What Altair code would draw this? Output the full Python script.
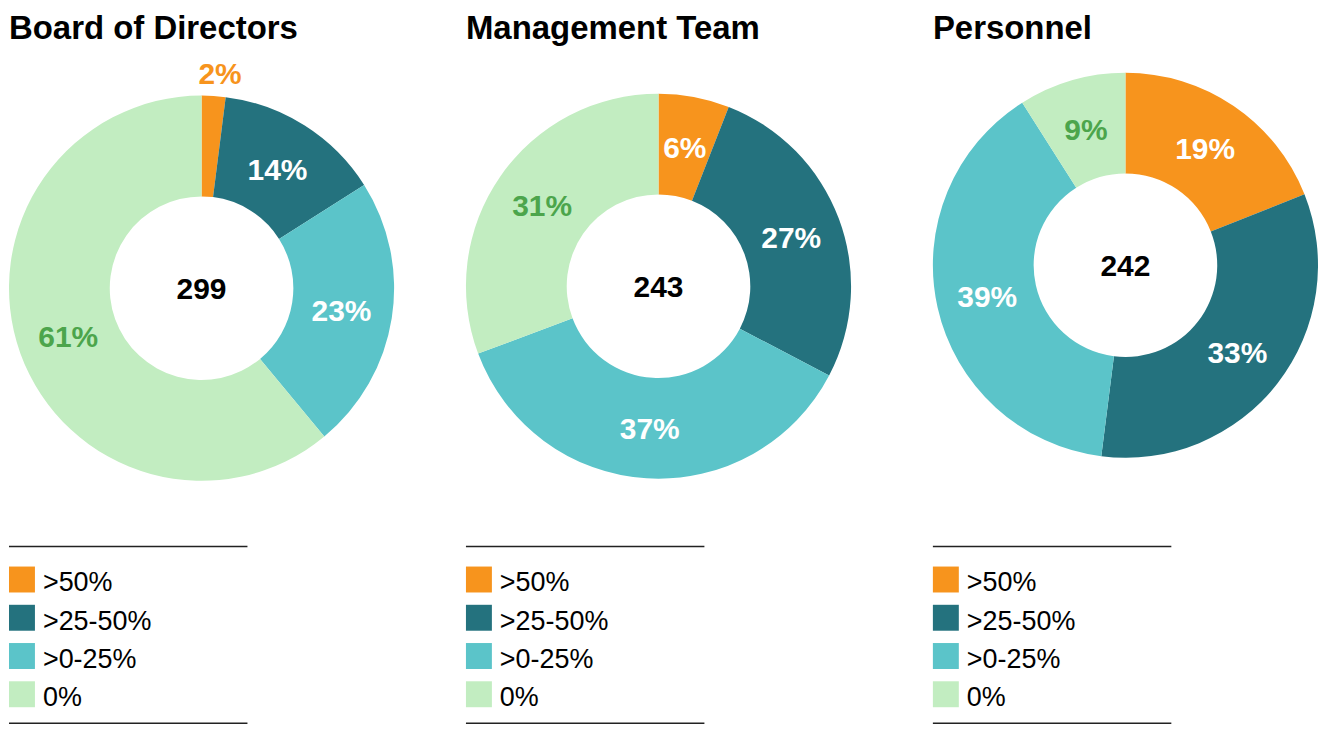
import altair as alt
import pandas as pd

# ---- data ----
categories = [">50%", ">25-50%", ">0-25%", "0%"]
colors = ["#F7941D", "#24727E", "#5BC4C9", "#C2EDC1"]
titles = ["Board of Directors", "Management Team", "Personnel"]
totals = [299, 243, 242]
board = [2, 14, 23, 61]
management = [6, 27, 37, 31]
personnel = [19, 33, 39, 9]

# ---- styling / layout ----
FONT = "Liberation Sans"
LABEL_GREEN = "#4CA54C"
R_OUT, R_IN, R_LAB, R_OUTSIDE = 193, 92, 142, 216
CX = 193
H = 718
panel_widths = [457, 467, 386]
centers_y = [280, 278, 257]
LEG_ROWS = [572, 687]
RULE_TOP, RULE_BOT, RULE_LEN = 539, 716, 239
SMALL = 5  # slices below this share get their label outside the ring

color_scale = alt.Scale(domain=categories, range=colors)


def panel(title, total, values, width, cy):
    df = pd.DataFrame({"category": categories, "value": values,
                       "rank": list(range(len(categories)))})
    src = alt.Chart(df)
    arcs = src.mark_arc(outerRadius=R_OUT, innerRadius=R_IN).encode(
        theta=alt.Theta("value:Q", stack=True),
        order=alt.Order("rank:Q", sort="ascending"),
        color=alt.Color("category:N", scale=color_scale, legend=None),
        x=alt.value(CX), y=alt.value(cy),
    )
    # mid-angle of each slice, computed from the cumulative sum
    lab_base = src.transform_window(
        cum="sum(value)", sort=[alt.SortField("rank", order="ascending")]
    ).transform_calculate(
        mid="datum.cum - datum.value / 2", lbl="datum.value + '%'"
    )
    inside = lab_base.transform_filter(f"datum.value >= {SMALL}").mark_text(
        radius=R_LAB, font=FONT, fontSize=30, fontWeight="bold",
        baseline="middle", dy=2
    ).encode(
        theta=alt.Theta("mid:Q", stack=False),
        text="lbl:N",
        color=alt.condition("datum.category == '0%'", alt.value(LABEL_GREEN),
                            alt.value("white")),
        x=alt.value(CX), y=alt.value(cy),
    )
    outside = lab_base.transform_filter(f"datum.value < {SMALL}").mark_text(
        radius=R_OUTSIDE, font=FONT, fontSize=30, fontWeight="bold",
        baseline="middle", dy=2, dx=5
    ).encode(
        theta=alt.Theta("mid:Q", stack=False),
        text="lbl:N",
        color=alt.Color("category:N", scale=color_scale, legend=None),
        x=alt.value(CX), y=alt.value(cy),
    )
    center = alt.Chart(pd.DataFrame({"total": [total]})).mark_text(
        font=FONT, fontSize=30, fontWeight="bold", color="black",
        baseline="middle", dy=2
    ).encode(x=alt.value(CX), y=alt.value(cy), text="total:Q")
    ttl = alt.Chart(pd.DataFrame({"title": [title]})).mark_text(
        font=FONT, fontSize=33, fontWeight="bold", color="black",
        align="left", baseline="alphabetic"
    ).encode(x=alt.value(0), y=alt.value(30), text="title:N")

    leg_df = pd.DataFrame({"category": categories})
    ly = alt.Y("category:N", sort=categories,
               scale=alt.Scale(type="point", range=LEG_ROWS, padding=0),
               axis=None)
    swatches = alt.Chart(leg_df).mark_square(size=676, opacity=1).encode(
        x=alt.value(13), y=ly,
        color=alt.Color("category:N", scale=color_scale, legend=None),
    )
    leg_text = alt.Chart(leg_df).mark_text(
        font=FONT, fontSize=27, color="black", align="left",
        baseline="alphabetic", dy=12
    ).encode(x=alt.value(34), y=ly, text="category:N")
    one = pd.DataFrame({"k": [0]})
    rule_top = alt.Chart(one).mark_rule(color="#222222", strokeWidth=1.5).encode(
        x=alt.value(0), x2=alt.value(RULE_LEN), y=alt.value(RULE_TOP))
    rule_bot = alt.Chart(one).mark_rule(color="#222222", strokeWidth=1.5).encode(
        x=alt.value(0), x2=alt.value(RULE_LEN), y=alt.value(RULE_BOT))

    return alt.layer(arcs, inside, outside, center, ttl,
                     rule_top, rule_bot, swatches, leg_text).properties(
        width=width, height=H)


series = [board, management, personnel]
panels = [panel(titles[i], totals[i], series[i], panel_widths[i], centers_y[i])
          for i in range(3)]

chart = alt.hconcat(*panels, spacing=0).resolve_scale(
    theta="independent"
).properties(padding=0).configure_view(stroke=None)

chart.save("out.html", embed_options={"renderer": "svg", "actions": False})
